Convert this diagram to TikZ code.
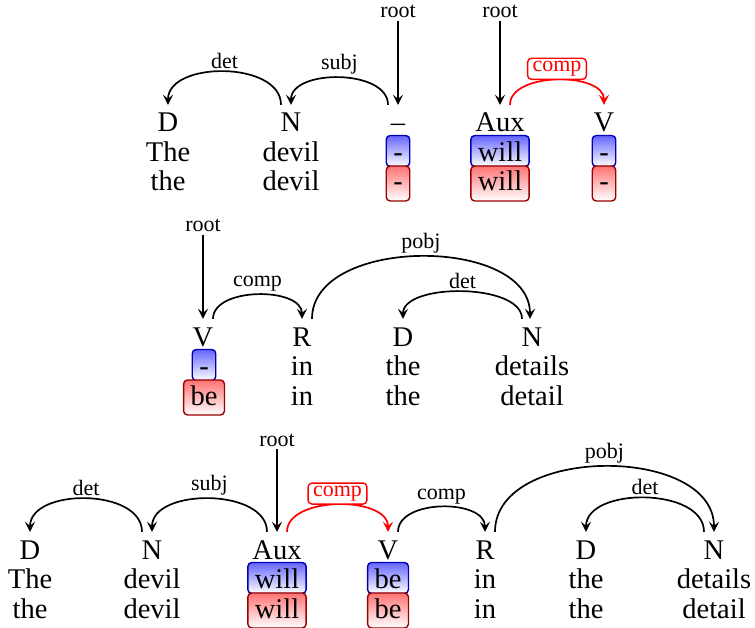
\documentclass[tikz,border=0pt]{standalone}
\usepackage{fontspec}
\setmainfont{Liberation Serif}
\usetikzlibrary{arrows.meta}

\begin{document}
\begin{tikzpicture}[x=1pt, y=-1pt,
  cat/.style={font=\fontsize{28.5}{31}\selectfont, anchor=base, inner xsep=0pt,
    inner ysep=7pt, text height=20pt, text depth=6pt},
  word/.style={font=\fontsize{28.5}{31}\selectfont, anchor=base, inner sep=0pt},
  bluebox/.style={word, draw=blue!70!black, top color=blue!60, bottom color=white,
    rounded corners=4pt, line width=1.4pt, inner xsep=7pt, inner ysep=3pt,
    text height=23pt, text depth=2pt},
  redbox/.style={word, draw=red!60!black, top color=red!55, bottom color=white,
    rounded corners=4pt, line width=1.4pt, inner xsep=7pt, inner ysep=3pt,
    text height=22pt, text depth=7pt},
  lbl/.style={font=\fontsize{22}{24}\selectfont, inner sep=2.5pt, anchor=south},
  redlbl/.style={lbl, draw=red, text=red, fill=white, rounded corners=4pt,
    line width=1.4pt, inner xsep=5pt, inner ysep=3pt},
  rootlbl/.style={font=\fontsize{22}{24}\selectfont, inner sep=3pt, anchor=base},
  arc/.style={line width=1.7pt, -{Stealth[length=10pt,width=10pt,inset=4pt]}},
  redarc/.style={arc, red}]
  \useasboundingbox (0,0) rectangle (755,628);

  % first row
  \node[cat] (a1) at (168,132) {D};
  \node[cat] (a2) at (291,132) {N};
  \node[cat] (a3) at (398,132) {–};
  \node[cat] (a4) at (500,132) {Aux};
  \node[cat] (a5) at (604,132) {V};
  \node[word] (a1w) at (168,161.5) {The};
  \node[word] (a2w) at (291,161.5) {devil};
  \node[bluebox] (a3w) at (398,161.5) {-};
  \node[bluebox] (a4w) at (500,161.5) {will};
  \node[bluebox] (a5w) at (604,161.5) {-};
  \node[word] (a1l) at (168,191) {the};
  \node[word] (a2l) at (291,191) {devil};
  \node[redbox] (a3l) at (398,191) {-};
  \node[redbox] (a4l) at (500,191) {will};
  \node[redbox] (a5l) at (604,191) {-};
  \node[rootlbl] (aroot1) at (398,18) {root};
  \node[rootlbl] (aroot2) at (500,18) {root};
  \draw[arc] (aroot1) -- (a3);
  \draw[arc] (aroot2) -- (a4);
  \draw[arc] ([xshift=-10pt]a2.north) .. controls +(0,-44) and +(0,-44) .. (a1.north)
    node[lbl, pos=0.5] {det};
  \draw[arc] ([xshift=-10pt]a3.north) .. controls +(0,-36) and +(0,-36) .. (a2.north)
    node[lbl, pos=0.5] {subj};
  \draw[redarc] ([xshift=10pt]a4.north) .. controls +(0,-33) and +(0,-33) .. (a5.north)
    node[redlbl, pos=0.5] {comp};

  % second row
  \node[cat] (b1) at (203,346) {V};
  \node[cat] (b2) at (302,346) {R};
  \node[cat] (b3) at (403,346) {D};
  \node[cat] (b4) at (532,346) {N};
  \node[bluebox] (b1w) at (204,375.5) {-};
  \node[word] (b2w) at (302,375.5) {in};
  \node[word] (b3w) at (403,375.5) {the};
  \node[word] (b4w) at (532,375.5) {details};
  \node[redbox] (b1l) at (204,405) {be};
  \node[word] (b2l) at (302,405) {in};
  \node[word] (b3l) at (403,405) {the};
  \node[word] (b4l) at (532,405) {detail};
  \node[rootlbl] (broot) at (203,232) {root};
  \draw[arc] (broot) -- (b1);
  \draw[arc] ([xshift=10pt]b1.north) .. controls +(0,-32) and +(0,-32) .. (b2.north)
    node[lbl, pos=0.5] {comp};
  \draw[arc] ([xshift=10pt]b2.north) .. controls +(0,-83) and +(0,-83) .. ([xshift=-2pt]b4.north)
    node[lbl, pos=0.5] {pobj};
  \draw[arc] ([xshift=-10pt]b4.north) .. controls +(0,-36) and +(0,-36) .. (b3.north)
    node[lbl, pos=0.5] {det};

  % third row
  \node[cat] (c1) at (30,559) {D};
  \node[cat] (c2) at (152,559) {N};
  \node[cat] (c3) at (277,559) {Aux};
  \node[cat] (c4) at (388,559) {V};
  \node[cat] (c5) at (485,559) {R};
  \node[cat] (c6) at (586,559) {D};
  \node[cat] (c7) at (714,559) {N};
  \node[word] (c1w) at (30,588.5) {The};
  \node[word] (c2w) at (152,588.5) {devil};
  \node[bluebox] (c3w) at (277,588.5) {will};
  \node[bluebox] (c4w) at (388,588.5) {be};
  \node[word] (c5w) at (485,588.5) {in};
  \node[word] (c6w) at (586,588.5) {the};
  \node[word] (c7w) at (714,588.5) {details};
  \node[word] (c1l) at (30,618) {the};
  \node[word] (c2l) at (152,618) {devil};
  \node[redbox] (c3l) at (277,618) {will};
  \node[redbox] (c4l) at (388,618) {be};
  \node[word] (c5l) at (485,618) {in};
  \node[word] (c6l) at (586,618) {the};
  \node[word] (c7l) at (714,618) {detail};
  \node[rootlbl] (croot) at (277,446) {root};
  \draw[arc] (croot) -- (c3);
  \draw[arc] ([xshift=-10pt]c2.north) .. controls +(0,-44) and +(0,-44) .. (c1.north)
    node[lbl, pos=0.5] {det};
  \draw[arc] ([xshift=-10pt]c3.north) .. controls +(0,-44) and +(0,-44) .. (c2.north)
    node[lbl, pos=0.5] {subj};
  \draw[redarc] ([xshift=10pt]c3.north) .. controls +(0,-36) and +(0,-36) .. (c4.north)
    node[redlbl, pos=0.5] {comp};
  \draw[arc] ([xshift=10pt]c4.north) .. controls +(0,-33) and +(0,-33) .. (c5.north)
    node[lbl, pos=0.5] {comp};
  \draw[arc] ([xshift=10pt]c5.north) .. controls +(0,-87) and +(0,-87) .. (c7.north)
    node[lbl, pos=0.5] {pobj};
  \draw[arc] ([xshift=-10pt]c7.north) .. controls +(0,-45) and +(0,-45) .. (c6.north)
    node[lbl, pos=0.5] {det};
\end{tikzpicture}
\end{document}
